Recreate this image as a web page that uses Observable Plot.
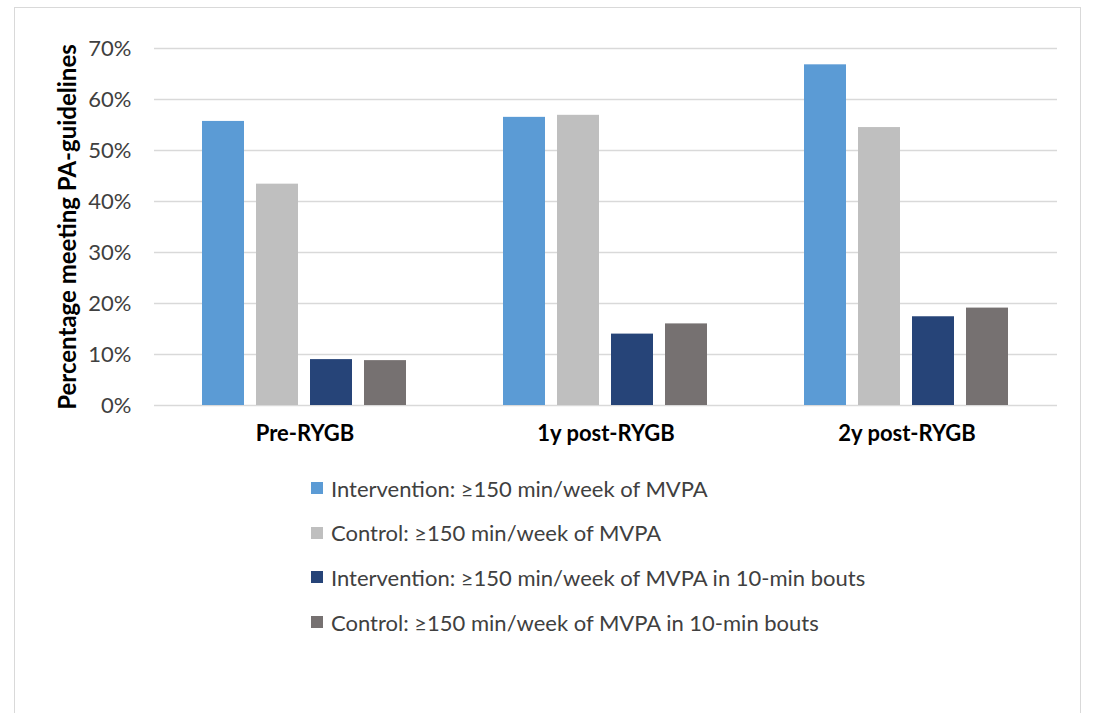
<!DOCTYPE html>
<html>
<head>
<meta charset="utf-8">
<script src="https://cdn.jsdelivr.net/npm/d3@7"></script>
<script src="https://cdn.jsdelivr.net/npm/@observablehq/plot@0.6"></script>
<style>
  html, body { margin: 0; padding: 0; background: #fff; }
  #wrap { position: relative; width: 1094px; height: 713px; overflow: hidden; font-family: Lato, "Open Sans", sans-serif; }
  #frame { position: absolute; left: 14px; top: 7px; width: 1067px; height: 720px; border: 1.5px solid #d9d9d9; box-sizing: border-box; }
  #chart { position: absolute; left: 0; top: 0; }
  #legend { position: absolute; left: 311px; top: 466px; color: #404040; font-size: 22px; }
  .item { display: flex; align-items: center; height: 44.6px; }
  .sw { width: 12px; height: 12px; margin-right: 8px; }
</style>
</head>
<body>
<div id="wrap">
  <div id="frame"></div>
  <div id="chart"></div>
  <div id="legend"></div>
</div>
<script>
const categories = ["Pre-RYGB", "1y post-RYGB", "2y post-RYGB"];
const seriesNames = [
  "Intervention: ≥150 min/week of MVPA",
  "Control: ≥150 min/week of MVPA",
  "Intervention: ≥150 min/week of MVPA in 10-min bouts",
  "Control: ≥150 min/week of MVPA in 10-min bouts"
];
const seriesColors = ["#5B9BD5", "#BFBFBF", "#264478", "#767171"];
// values in percent, per series, per category
const interventionMVPA = [55.7, 56.5, 66.8];
const controlMVPA = [43.4, 56.9, 54.5];
const interventionBouts = [9.0, 14.0, 17.4];
const controlBouts = [8.8, 16.0, 19.1];
const yTicks = [0, 10, 20, 30, 40, 50, 60, 70];

const seriesValues = [interventionMVPA, controlMVPA, interventionBouts, controlBouts];
const data = [];
categories.forEach((c, ci) => {
  seriesNames.forEach((s, si) => {
    data.push({category: c, series: s, value: seriesValues[si][ci]});
  });
});

const chart = Plot.plot({
  width: 1094,
  height: 460,
  marginLeft: 153,
  marginRight: 36,
  marginTop: 48,
  marginBottom: 55,
  style: {fontFamily: "Lato, 'Open Sans', sans-serif", color: "#404040", background: "transparent"},
  fx: {domain: categories, padding: 0, label: null},
  x: {domain: seriesNames, paddingInner: 0.218, paddingOuter: 0.85, axis: null},
  y: {domain: [0, 70], ticks: yTicks, label: null},
  color: {domain: seriesNames, range: seriesColors},
  marks: [
    Plot.ruleY(yTicks, {stroke: "#d9d9d9", strokeWidth: 1.5}),
    Plot.barY(data, {fx: "category", x: "series", y: "value", fill: "series"}),
    Plot.axisY(yTicks, {
      tickSize: 0, tickPadding: 23, fontSize: 22,
      tickFormat: d => d + "%",
      label: "Percentage meeting PA-guidelines",
      labelAnchor: "center", labelArrow: "none", labelOffset: 96
    }),
    Plot.axisFx({anchor: "bottom", tickSize: 0, tickPadding: 20, fontSize: 22, fontWeight: "bold", label: null, fill: "#000"})
  ]
});
document.getElementById("chart").appendChild(chart);

// style axis title bold & size
chart.querySelectorAll("g[aria-label='y-axis label'] text").forEach(t => {
  t.setAttribute("font-weight", "bold");
  t.setAttribute("font-size", "24");
  t.setAttribute("fill", "#000");
});

const legend = document.getElementById("legend");
seriesNames.forEach((s, i) => {
  const row = document.createElement("div");
  row.className = "item";
  const sw = document.createElement("span");
  sw.className = "sw";
  sw.style.background = seriesColors[i];
  const tx = document.createElement("span");
  tx.textContent = s;
  row.appendChild(sw);
  row.appendChild(tx);
  legend.appendChild(row);
});
</script>
</body>
</html>
